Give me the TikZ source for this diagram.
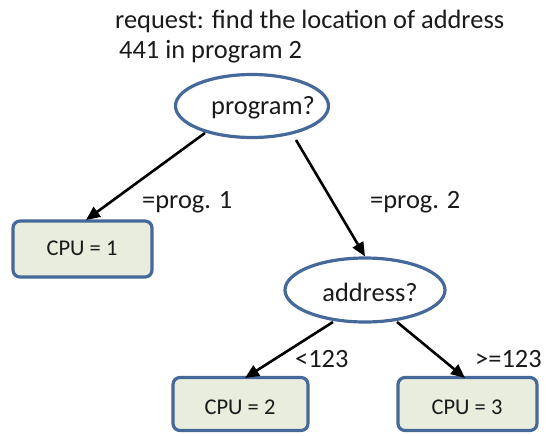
\documentclass[tikz,border=0pt]{standalone}
\usepackage{fontspec}
\setmainfont{Carlito}
\usetikzlibrary{shapes.geometric,arrows.meta}
\definecolor{bord}{HTML}{44699A}
\definecolor{boxfill}{HTML}{E9EDDE}
\definecolor{txt}{HTML}{1A1A1A}
\tikzset{
  oval/.style={ellipse, draw=bord, line width=3.2pt, fill=white, inner sep=0pt},
  cpubox/.style={rectangle, rounded corners=7pt, draw=bord, line width=3.2pt, fill=boxfill, inner sep=0pt},
  big/.style={font=\fontsize{26.4}{30}\selectfont, text=txt, inner sep=0pt},
  small/.style={font=\fontsize{22.5}{26}\selectfont, text=txt, inner sep=0pt},
  arr/.style={-{Triangle[length=14pt,width=12pt]}, line width=2.6pt, black}
}
\begin{document}
\begin{tikzpicture}[x=1pt,y=-1pt]
\useasboundingbox (0,0) rectangle (546,436);
\node[big, anchor=west] (t1) at (115,21) {request: find the location of address};
\node[big, anchor=west] (t2) at (119,52) {441 in program 2};
\node[oval, minimum width=153pt, minimum height=63pt] (p) at (252,106) {};
\node[big] (pt) at (263,108) {program?};
\node[cpubox, minimum width=139pt, minimum height=56pt] (c1) at (82.5,249) {};
\node[small] (c1t) at (82,248) {CPU = 1};
\node[oval, minimum width=160pt, minimum height=64pt] (a) at (365,290) {};
\node[big] (at) at (370,292) {address?};
\node[cpubox, minimum width=135pt, minimum height=53pt] (c2) at (240.5,404) {};
\node[small] (c2t) at (240,407) {CPU = 2};
\node[cpubox, minimum width=139pt, minimum height=53pt] (c3) at (467.5,404) {};
\node[small] (c3t) at (467,407) {CPU = 3};
\node[big, anchor=west] (l1) at (142,202) {=prog. 1};
\node[big, anchor=west] (l2) at (370,202) {=prog. 2};
\node[big, anchor=west] (l3) at (295,359) {<123};
\node[big, anchor=west] (l4) at (475,359) {>=123};
\coordinate (p1s) at (205,133);
\coordinate (p2s) at (296,140);
\coordinate (a1s) at (333,322);
\coordinate (a2s) at (397,322);
\coordinate (c1e) at (86,220);
\coordinate (c2e) at (245,378);
\coordinate (c3e) at (465,378);
\draw[arr] (p1s) -- (c1e);
\draw[arr] (p2s) -- (a.north);
\draw[arr] (a1s) -- (c2e);
\draw[arr] (a2s) -- (c3e);
\end{tikzpicture}
\end{document}
